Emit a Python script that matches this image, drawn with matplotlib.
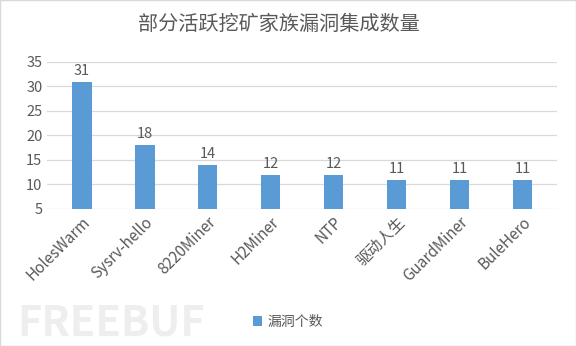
import matplotlib

matplotlib.use("Agg")
import matplotlib.pyplot as plt  # noqa: E402
import numpy as np  # noqa: E402

plt.rcParams["font.family"] = ["Noto Sans CJK SC", "DejaVu Sans"]

BAR = "#5B9BD5"
TEXT = "#595959"
GRID = "#D9D9D9"

families = ["HolesWarm", "Sysrv-hello", "8220Miner", "H2Miner", "NTP",
            "驱动人生", "GuardMiner", "BuleHero"]
counts = [31, 18, 14, 12, 12, 11, 11, 11]
yticks = [5, 10, 15, 20, 25, 30, 35]

fig = plt.figure(figsize=(5.76, 3.46), dpi=100)
ax = fig.add_axes([0.082, 0.396, 0.885, 0.425])

x = np.arange(len(families))
base = yticks[0]
bars = ax.bar(x, [c - base for c in counts], bottom=base, width=0.31,
              color=BAR, label="漏洞个数", zorder=2)
for xi, c in zip(x, counts):
    ax.text(xi, c + 0.8, str(c), ha="center", va="bottom", fontsize=10.5, color=TEXT)

ax.set_xlim(-0.55, len(families) - 0.45)
ax.set_ylim(yticks[0], yticks[-1])
ax.set_yticks(yticks)
ax.grid(axis="y", color=GRID, linewidth=0.9, zorder=0)
ax.set_axisbelow(True)
for s in ax.spines.values():
    s.set_visible(False)
ax.tick_params(axis="both", length=0, colors=TEXT, labelsize=10.5)
ax.tick_params(axis="x", labelsize=11)
ax.set_xticks(x)
ax.set_xticklabels(families, rotation=45, ha="right", rotation_mode="anchor")

fig.text(0.485, 0.928, "部分活跃挖矿家族漏洞集成数量", ha="center", va="center",
         fontsize=14.5, color=TEXT)
fig.legend(handles=[bars], labels=["漏洞个数"], loc="center", bbox_to_anchor=(0.5, 0.07),
           frameon=False, fontsize=10, labelcolor=TEXT, handlelength=0.7,
           handleheight=0.7, handletextpad=0.4)

# faint watermark
fig.text(0.03, 0.065, "FREEBUF", fontsize=30, fontweight="bold", color="#EEEEEE",
         ha="left", va="center", zorder=0)

fig.patches.append(plt.Rectangle((0, 0), 1, 1, transform=fig.transFigure, fill=False,
                                 edgecolor="#D9D9D9", linewidth=1))

fig.savefig("out.png", dpi=100)
plt.close(fig)
